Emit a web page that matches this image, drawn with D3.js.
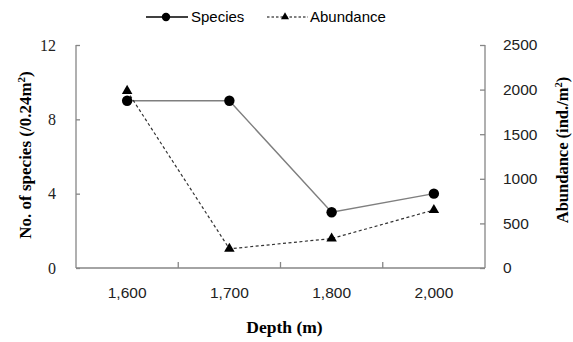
<!DOCTYPE html>
<html><head><meta charset="utf-8">
<script src="https://cdn.jsdelivr.net/npm/d3@7"></script>
<style>body{margin:0;background:#fff}svg{display:block}</style>
</head><body>
<script>
const depths = ["1,600", "1,700", "1,800", "2,000"];
const species = [9, 9, 3, 4];
const abundance = [1985, 215, 330, 650];
const leftTicks = [0, 4, 8, 12];
const rightTicks = [0, 500, 1000, 1500, 2000, 2500];

const W = 573, H = 342;
const m = {l: 76, r: 485, t: 45, b: 268};
const svg = d3.select("body").append("svg").attr("width", W).attr("height", H);

const x = d3.scaleBand().domain(depths).range([m.l, m.r]).padding(0);
const yL = d3.scaleLinear().domain([0, 12]).range([m.b, m.t]);
const yR = d3.scaleLinear().domain([0, 2500]).range([m.b, m.t]);
const axisColor = "#868686";

// axes
const gL = svg.append("g").attr("transform", `translate(${m.l},0)`)
  .call(d3.axisRight(yL).tickValues(leftTicks).tickSize(4).tickFormat(d3.format("d")));
gL.selectAll("text").remove();
svg.append("g").selectAll("text").data(leftTicks).join("text")
  .attr("x", 56).attr("y", d => yL(d)).attr("dy", "0.35em").attr("text-anchor", "end")
  .attr("font-family", "Liberation Serif").attr("font-size", 16).attr("fill", "#222").text(d => d);

const gR = svg.append("g").attr("transform", `translate(${m.r},0)`)
  .call(d3.axisLeft(yR).tickValues(rightTicks).tickSize(5));
gR.selectAll("text").remove();
svg.append("g").selectAll("text").data(rightTicks).join("text")
  .attr("x", 503).attr("y", d => yR(d)).attr("dy", "0.35em").attr("text-anchor", "start")
  .attr("font-family", "Liberation Sans").attr("font-size", 15.5).attr("fill", "#222").text(d => d);

const gX = svg.append("g").attr("transform", `translate(0,${m.b})`)
  .call(d3.axisBottom(x).tickSize(0).tickPadding(19));
gX.selectAll("text").attr("font-family", "Liberation Sans").attr("font-size", 15.5).attr("fill", "#222");
gX.selectAll(".tick line").remove();
gX.selectAll("line.bt").data(depths.slice(1)).join("line").attr("class", "bt")
  .attr("x1", d => x(d)).attr("x2", d => x(d)).attr("y1", 0).attr("y2", -6)
  .attr("stroke", axisColor);

[gL, gR, gX].forEach(g => {
  g.select(".domain").attr("stroke", axisColor).attr("stroke-width", 1.3);
  g.selectAll("line").attr("stroke", axisColor).attr("stroke-width", 1.3);
});
gL.select(".domain").attr("d", `M0,${m.t}V${m.b}`);
gR.select(".domain").attr("d", `M0,${m.t}V${m.b}`);
gX.select(".domain").attr("d", `M${m.l},0H${m.r}`);

const cx = d => x(d) + x.bandwidth() / 2;

// lines
svg.append("path").datum(species.map((v, i) => [cx(depths[i]), yL(v)]))
  .attr("d", d3.line()).attr("fill", "none").attr("stroke", "#7f7f7f").attr("stroke-width", 1.4);
svg.append("path").datum(abundance.map((v, i) => [cx(depths[i]), yR(v)]))
  .attr("d", d3.line()).attr("fill", "none").attr("stroke", "#333").attr("stroke-width", 1.2)
  .attr("stroke-dasharray", "3,2.5");

const tri = d3.symbol().type(d3.symbolTriangle).size(48);
svg.append("g").selectAll("circle").data(species).join("circle")
  .attr("cx", (d, i) => cx(depths[i])).attr("cy", d => yL(d)).attr("r", 5.2).attr("fill", "#000");
svg.append("g").selectAll("path").data(abundance).join("path")
  .attr("d", tri).attr("transform", (d, i) => `translate(${cx(depths[i])},${yR(d)})`).attr("fill", "#000");

// legend
const lg = svg.append("g");
lg.append("line").attr("x1", 146).attr("x2", 188).attr("y1", 17).attr("y2", 17).attr("stroke", "#000").attr("stroke-width", 1.3);
lg.append("circle").attr("cx", 166).attr("cy", 17).attr("r", 4.2).attr("fill", "#000");
lg.append("text").attr("x", 191).attr("y", 17).attr("dy", "0.35em").attr("font-family", "Liberation Sans").attr("font-size", 15).attr("fill", "#000").text("Species");
lg.append("line").attr("x1", 267).attr("x2", 308).attr("y1", 17).attr("y2", 17).attr("stroke", "#000").attr("stroke-width", 1).attr("stroke-dasharray", "2.5,2");
lg.append("path").attr("d", d3.symbol().type(d3.symbolTriangle).size(28)).attr("transform", "translate(285,17)").attr("fill", "#000");
lg.append("text").attr("x", 310).attr("y", 17).attr("dy", "0.35em").attr("font-family", "Liberation Sans").attr("font-size", 15).attr("fill", "#000").text("Abundance");

// titles
svg.append("text").attr("x", (m.l + m.r) / 2 + 4).attr("y", 333).attr("text-anchor", "middle")
  .attr("font-family", "Liberation Serif").attr("font-weight", "bold").attr("font-size", 17.5).attr("fill", "#000").text("Depth (m)");
const lt = svg.append("text").attr("transform", `translate(31,155) rotate(-90)`).attr("text-anchor", "middle")
  .attr("font-family", "Liberation Serif").attr("font-weight", "bold").attr("font-size", 17).attr("fill", "#000");
lt.append("tspan").text("No. of species (/0.24m");
lt.append("tspan").attr("font-size", 11).attr("dy", -6).text("2");
lt.append("tspan").attr("dy", 6).text(")");
const rt = svg.append("text").attr("transform", `translate(568,150) rotate(-90)`).attr("text-anchor", "middle")
  .attr("font-family", "Liberation Serif").attr("font-weight", "bold").attr("font-size", 16.5).attr("fill", "#000");
rt.append("tspan").text("Abundance (ind./m");
rt.append("tspan").attr("font-size", 10.5).attr("dy", -6).text("2");
rt.append("tspan").attr("dy", 6).text(")");
</script>
</body></html>
